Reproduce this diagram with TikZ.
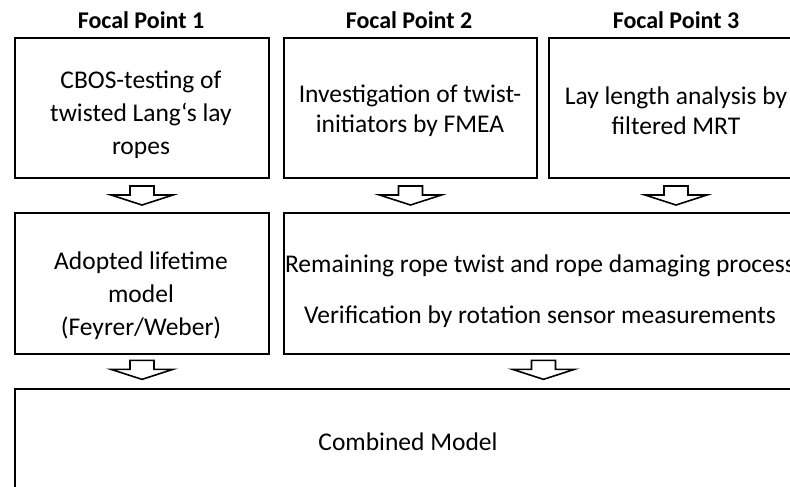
\documentclass[tikz,border=0pt]{standalone}
\usepackage{fontspec}
\setmainfont{Carlito}
\usetikzlibrary{calc}
\begin{document}
\begin{tikzpicture}[x=1pt,y=-1pt,
  box/.style={draw, line width=2pt, inner sep=0pt, anchor=north west},
  txt/.style={align=center, font=\fontsize{25.5}{33}\selectfont, inner sep=0pt},
  txtb/.style={align=center, font=\fontsize{25.5}{30}\selectfont, inner sep=0pt},
  head/.style={font=\bfseries\fontsize{24}{29}\selectfont, inner sep=0pt, anchor=base},
  dnarrow/.pic={\draw[line width=1.6pt, line join=miter, fill=white]
     (-12,-9.5) -- (12,-9.5) -- (12,-0.5) -- (31,-0.5) -- (0,9.5) -- (-31,-0.5) -- (-12,-0.5) -- cycle;}
]
\clip (0,0) rectangle (790,487);
\fill[white] (0,0) rectangle (790,487);

% headers
\node[head] (h1) at (141,29) {Focal Point 1};
\node[head] (h2) at (409,29) {Focal Point 2};
\node[head] (h3) at (676,29) {Focal Point 3};

% boxes
\node[box, minimum width=254, minimum height=140] (b1) at (14,37) {};
\node[box, minimum width=253, minimum height=140] (b2) at (283,37) {};
\node[box, minimum width=254, minimum height=140] (b3) at (548,37) {};
\node[box, minimum width=254, minimum height=141] (b4) at (14,212) {};
\node[box, minimum width=519, minimum height=141] (b5) at (283,212) {};
\node[box, minimum width=788, minimum height=150] (b6) at (14,388) {};

% texts
\node[txt] (t1) at (141,115) {CBOS-testing of\\twisted Lang‘s lay\\ropes};
\node[txtb] (t2) at (410,111) {Investigation of twist-\\initiators by FMEA};
\node[txtb] (t3) at (676,111) {Lay length analysis by\\filtered MRT};
\node[txt] (t4) at (141,296) {Adopted lifetime\\model\\(Feyrer/Weber)};
\node[txt] (t5) at (540,291) {Remaining rope twist and rope damaging process\\[18pt]Verification by rotation sensor measurements};
\node[txt] (t6) at (408,442) {Combined Model};

% block arrows
\pic at ($(b1.south)!0.5!(b1.south|-b4.north)$) {dnarrow};
\pic at ($(b2.south)!0.5!(b2.south|-b5.north)$) {dnarrow};
\pic at ($(b3.south)!0.5!(b3.south|-b5.north)$) {dnarrow};
\pic at ($(b4.south)!0.45!(b4.south|-b6.north)$) {dnarrow};
\pic at ($(b5.south)!0.45!(b5.south|-b6.north)$) {dnarrow};
\end{tikzpicture}
\end{document}
